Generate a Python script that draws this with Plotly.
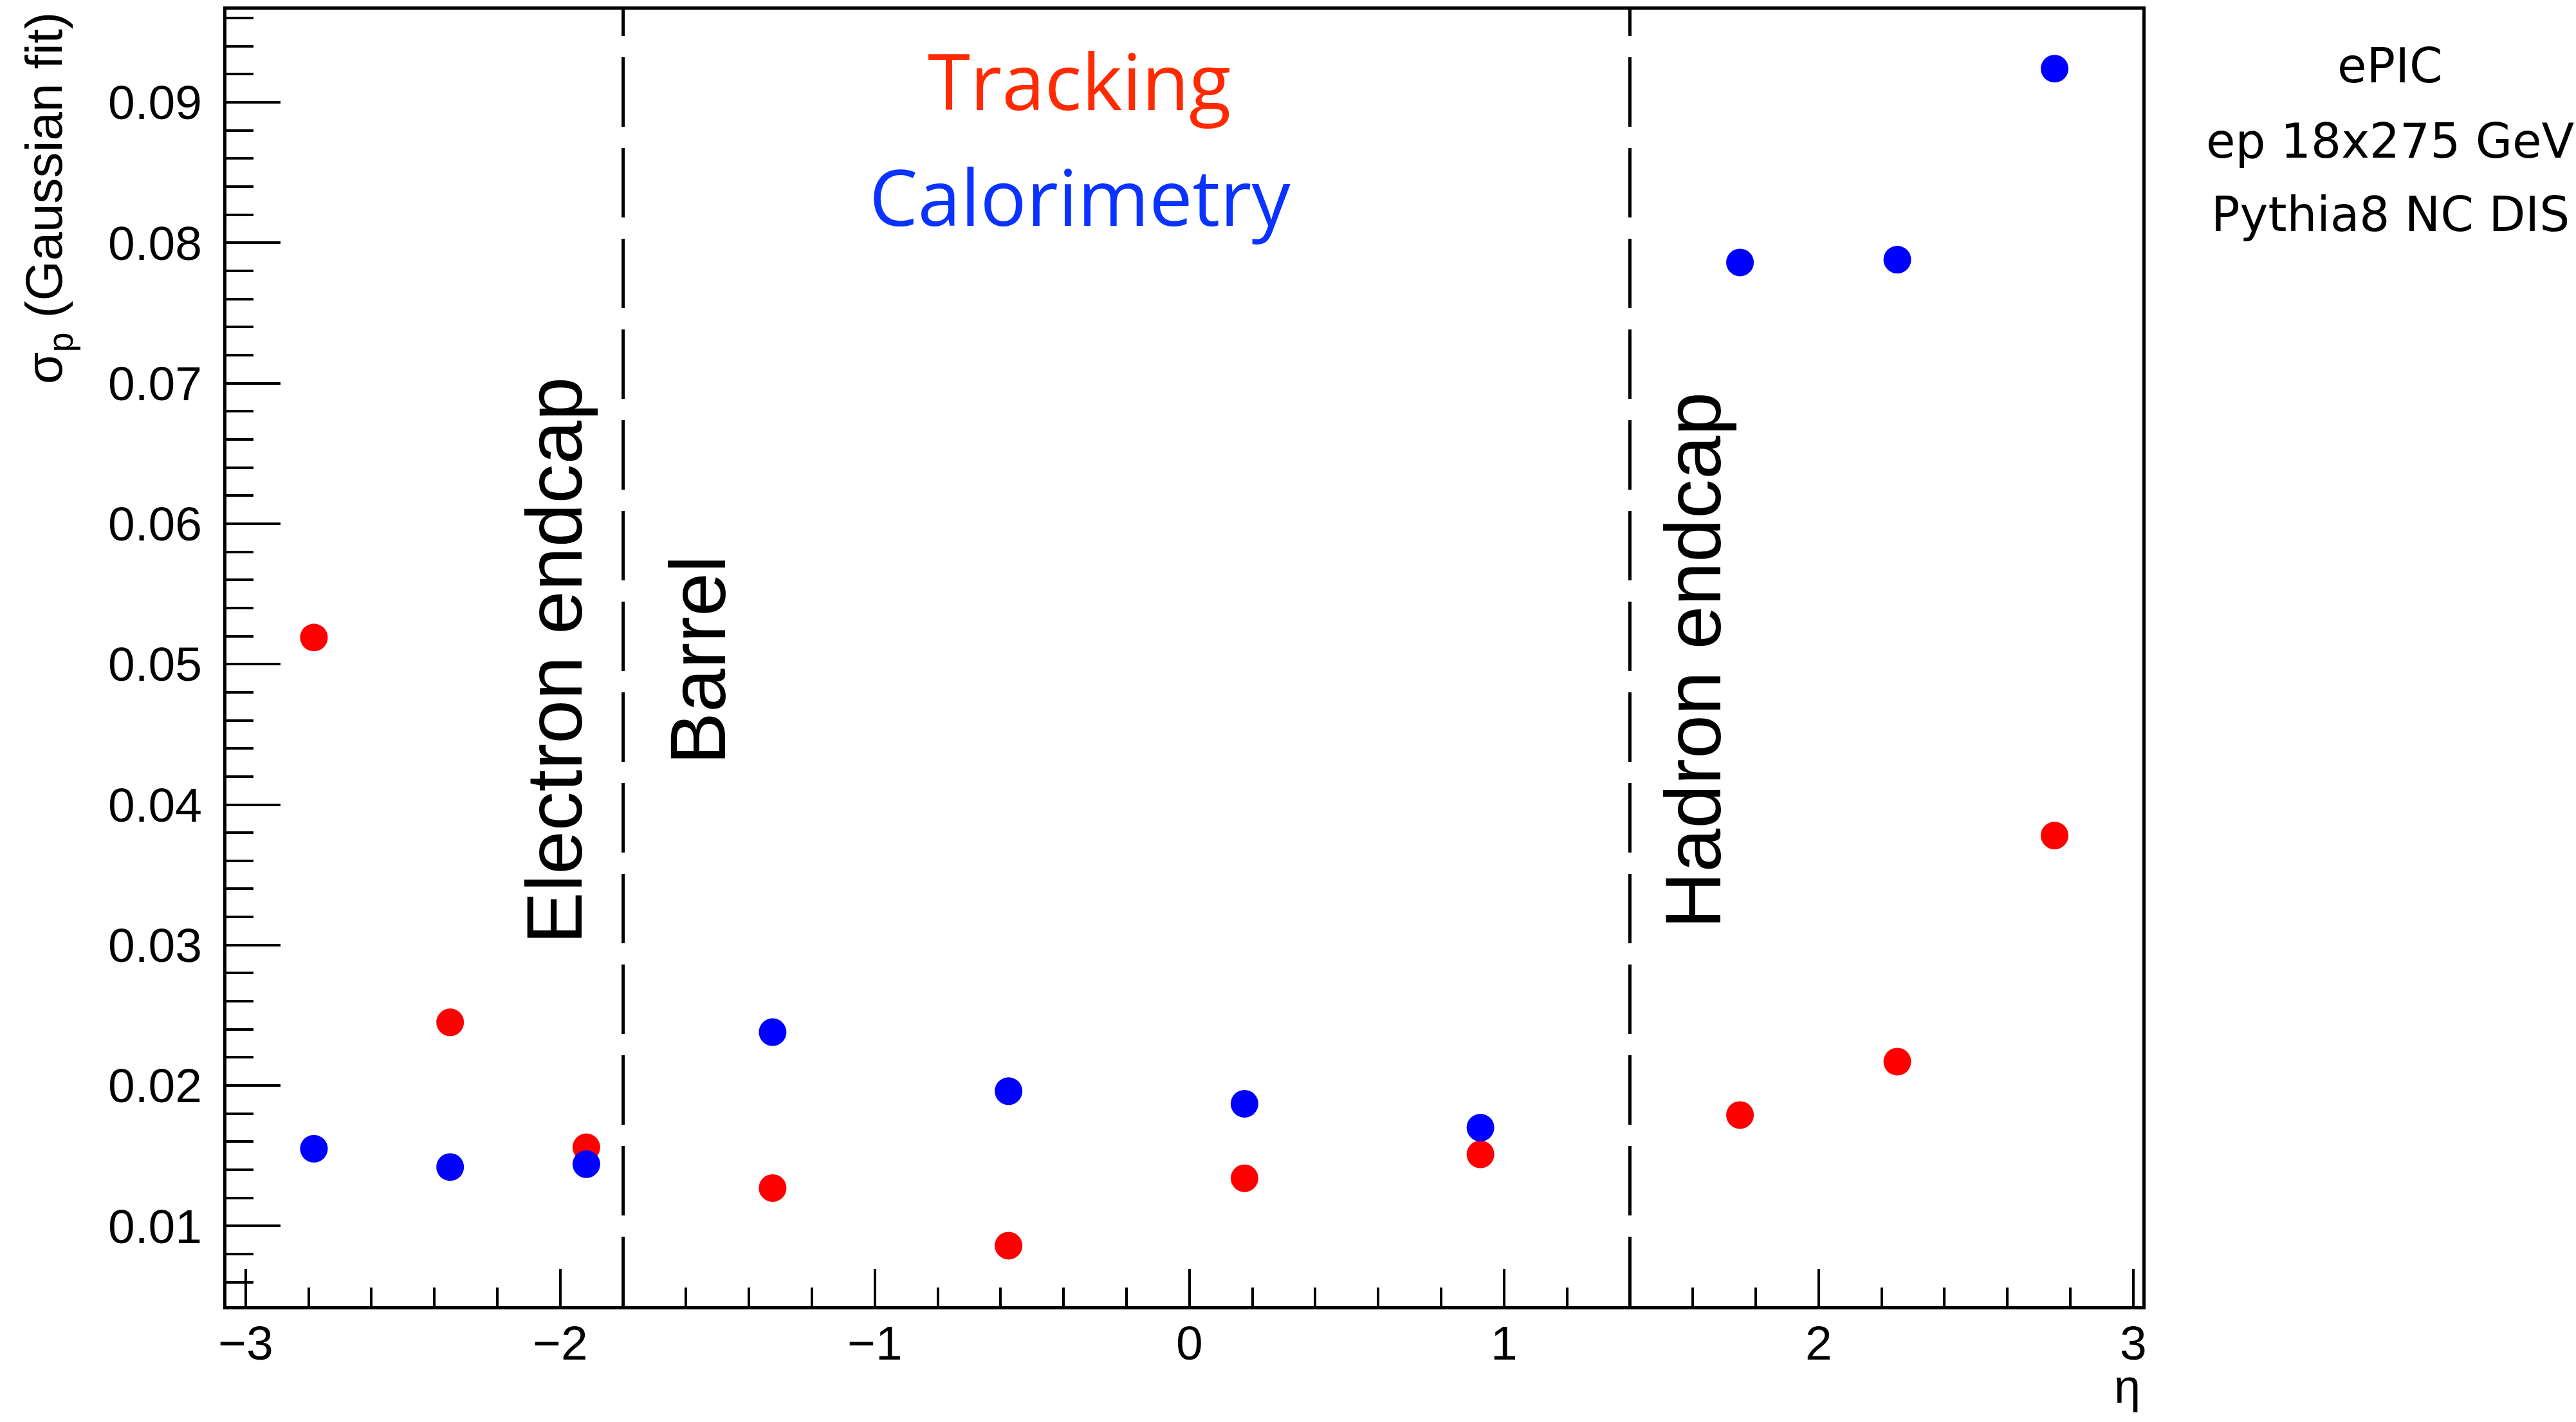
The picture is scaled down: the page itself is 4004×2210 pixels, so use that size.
import plotly.graph_objects as go

# ---- data ----
eta = [-2.783, -2.35, -1.917, -1.325, -0.575, 0.175, 0.925, 1.75, 2.25, 2.75]
sigma_tracking = [0.0519, 0.0245, 0.0156, 0.0127, 0.0086, 0.0134, 0.0151, 0.0179, 0.0217, 0.0378]
sigma_calo = [0.0155, 0.0142, 0.0144, 0.0238, 0.0196, 0.0187, 0.0170, 0.0786, 0.0788, 0.0924]
region_bounds = [-1.8, 1.4]
region_labels = ["Electron endcap", "Barrel", "Hadron endcap"]
x_ticks = [-3, -2, -1, 0, 1, 2, 3]
y_ticks = [0.01, 0.02, 0.03, 0.04, 0.05, 0.06, 0.07, 0.08, 0.09]
info_lines = ["ePIC", "ep 18x275 GeV", "Pythia8 NC DIS"]

W, H = 4004, 2210
L, R, T, B = 352, 3330, 10, 2030
XR = [-3.061, 3.029]
YR = [0.00429, 0.0966]

def px(xp):
    return (xp - L) / (R - L)

def py(yp):
    return (B - yp) / (B - T)

fig = go.Figure()
fig.add_trace(go.Scatter(x=eta, y=sigma_tracking, mode="markers",
                         marker=dict(color="#ff0000", size=43, line=dict(width=0)),
                         name="Tracking", showlegend=False))
fig.add_trace(go.Scatter(x=eta, y=sigma_calo, mode="markers",
                         marker=dict(color="#0000ff", size=43, line=dict(width=0)),
                         name="Calorimetry", showlegend=False))

for xb in region_bounds:
    fig.add_shape(type="line", xref="x", yref="paper", x0=xb, x1=xb, y0=0, y1=1,
                  line=dict(color="black", width=5, dash="108px,33px"))

tick_font = dict(family="Liberation Sans, Arial, sans-serif", size=75, color="black")

fig.update_xaxes(range=XR, showgrid=False, zeroline=False, showline=True, linewidth=5,
                 linecolor="black", mirror=True, ticks="inside", ticklen=58, tickwidth=4,
                 tickcolor="black", tickvals=x_ticks, tickfont=tick_font,
                 ticklabelstandoff=-12,
                 minor=dict(ticks="inside", ticklen=29, tickwidth=4, tickcolor="black",
                            dtick=0.2, tick0=0, showgrid=False))
fig.update_yaxes(range=YR, showgrid=False, zeroline=False, showline=True, linewidth=5,
                 linecolor="black", mirror=True, ticks="inside", ticklen=84, tickwidth=4,
                 tickcolor="black", tickvals=y_ticks, tickformat=".2f", tickfont=tick_font,
                 ticklabelstandoff=18,
                 minor=dict(ticks="inside", ticklen=42, tickwidth=4, tickcolor="black",
                            dtick=0.002, tick0=0, showgrid=False))

ann = []
# region labels (vertical)
label_px = [862, 1085, 2632]
for lab, xpix in zip(region_labels, label_px):
    ann.append(dict(text=lab, xref="paper", yref="paper", x=px(xpix), y=py(1024),
                    xanchor="center", yanchor="middle", textangle=-90, showarrow=False,
                    font=dict(family="Liberation Sans, Arial, sans-serif", size=122, color="black")))

# Tracking / Calorimetry
ann.append(dict(text="Tracking", xref="paper", yref="paper", x=px(1677), y=py(120),
                xanchor="center", yanchor="middle", showarrow=False,
                font=dict(family="Open Sans, sans-serif", size=120, color="#ff2a00")))
ann.append(dict(text="Calorimetry", xref="paper", yref="paper", x=px(1678), y=py(300),
                xanchor="center", yanchor="middle", showarrow=False,
                font=dict(family="Open Sans, sans-serif", size=120, color="#0a33ff")))

# info text top-right
for line, ypix in zip(info_lines, [97, 215, 329]):
    ann.append(dict(text=line, xref="paper", yref="paper", x=px(3715), y=py(ypix),
                    xanchor="center", yanchor="middle", showarrow=False,
                    font=dict(family="DejaVu Sans, sans-serif", size=74, color="black")))

# axis titles
ann.append(dict(text="σ<sub>p</sub> (Gaussian fit)", xref="paper", yref="paper",
                x=px(75), y=py(12), xanchor="center", yanchor="top", textangle=-90,
                showarrow=False,
                font=dict(family="Liberation Sans, Arial, sans-serif", size=80, color="black")))
ann.append(dict(text="η", xref="paper", yref="paper", x=px(3306), y=py(2155),
                xanchor="center", yanchor="middle", showarrow=False,
                font=dict(family="Liberation Sans, Arial, sans-serif", size=74, color="black")))

fig.update_layout(width=W, height=H, margin=dict(l=L, r=W - R, t=T, b=H - B),
                  paper_bgcolor="white", plot_bgcolor="white", annotations=ann,
                  showlegend=False)

fig.write_html("out.html")
